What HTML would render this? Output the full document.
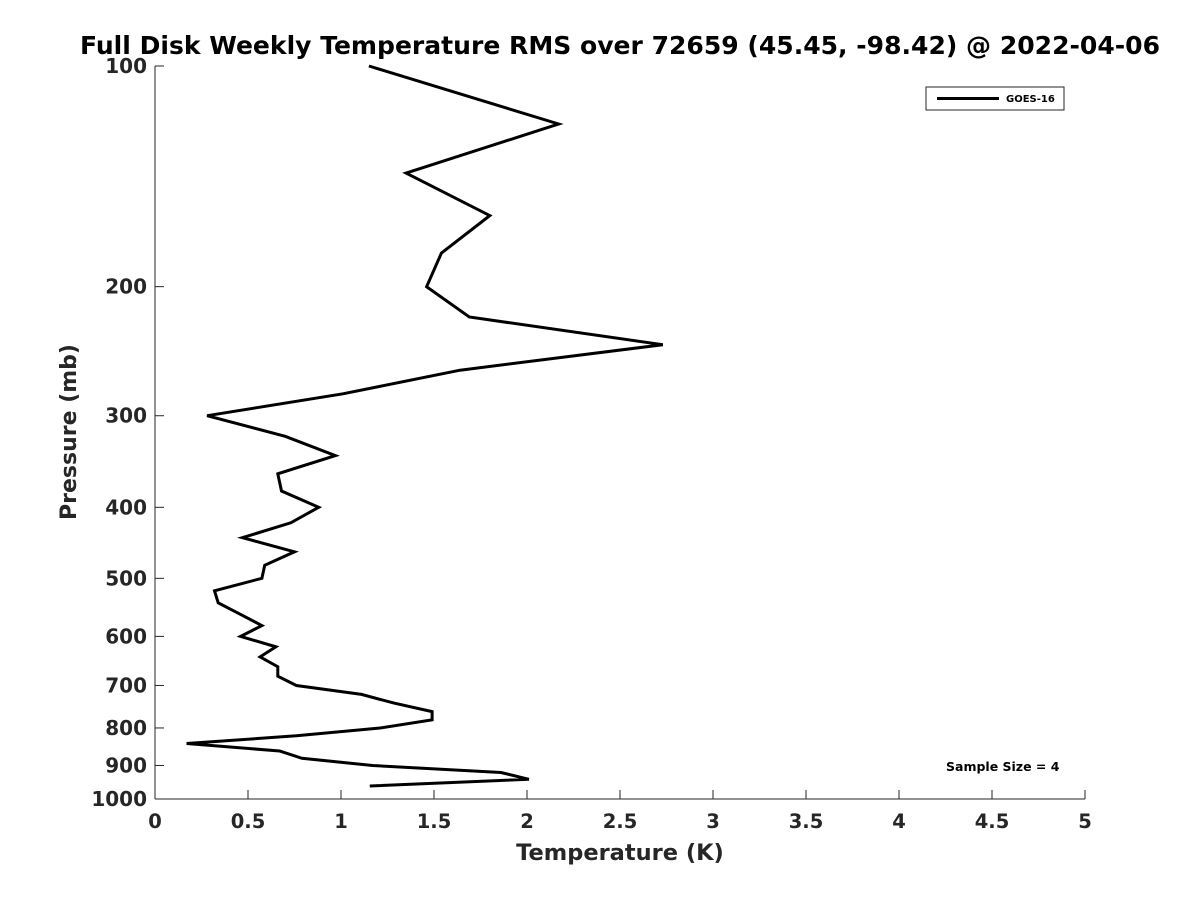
<!DOCTYPE html>
<html><head><meta charset="utf-8"><style>
body{margin:0;background:#fff;}
svg text{font-family:"DejaVu Sans","Liberation Sans",sans-serif;font-weight:bold;fill:#262626;}
</style></head><body>
<svg width="1200" height="900" xmlns="http://www.w3.org/2000/svg">
<rect width="1200" height="900" fill="#fff"/>
<text x="620" y="54" text-anchor="middle" font-size="24.5" textLength="1080" lengthAdjust="spacingAndGlyphs" style="fill:#000">Full Disk Weekly Temperature RMS over 72659 (45.45, -98.42) @ 2022-04-06</text>
<g id="axes"></g>
<text x="620" y="860" text-anchor="middle" font-size="22.5">Temperature (K)</text>
<text transform="translate(76,432) rotate(-90)" text-anchor="middle" font-size="22">Pressure (mb)</text>
<g>
<rect x="926" y="87" width="138" height="23" fill="#fff" stroke="#262626" stroke-width="1"/>
<line x1="937" y1="98.5" x2="999" y2="98.5" stroke="#000" stroke-width="3"/>
<text x="1006" y="102" font-size="10" style="fill:#000">GOES-16</text>
</g>
<text x="946" y="771" font-size="12.5" style="fill:#000">Sample Size = 4</text>
</svg>
<script>
const pressures=[100,120,140,160,180,200,220,240,260,280,300,320,340,360,380,400,420,440,460,480,500,520,540,560,580,600,620,640,660,680,700,720,740,760,780,800,820,840,860,880,900,920,940,960];
const temps=[1.15,2.17,1.35,1.80,1.54,1.46,1.69,2.73,1.64,1.01,0.28,0.70,0.97,0.66,0.68,0.88,0.73,0.47,0.75,0.59,0.575,0.32,0.34,0.46,0.575,0.46,0.65,0.565,0.66,0.66,0.76,1.11,1.285,1.49,1.49,1.21,0.76,0.17,0.67,0.79,1.17,1.86,2.01,1.155];
const xTicks=[0,0.5,1,1.5,2,2.5,3,3.5,4,4.5,5];
const xTickLabels=["0","0.5","1","1.5","2","2.5","3","3.5","4","4.5","5"];
const yTicks=[100,200,300,400,500,600,700,800,900,1000];
const L=155,R=1085,T=66,B=799;
const xs=v=>L+(v-0)/5*(R-L);
const ys=p=>T+Math.log10(p/100)*(B-T);
const NS="http://www.w3.org/2000/svg";
const svg=document.querySelector('svg');const g=document.getElementById('axes');
function mk(t,a,parent){const e=document.createElementNS(NS,t);for(const k in a)e.setAttribute(k,a[k]);(parent||g).appendChild(e);return e;}
let ax=mk('line',{x1:L,y1:B,x2:R,y2:B,stroke:'#262626','stroke-width':1});


let ay=mk('line',{x1:L,y1:T,x2:L,y2:B,stroke:'#262626','stroke-width':1});


xTicks.forEach((v,i)=>{const x=xs(v);
mk('line',{x1:x,y1:B,x2:x,y2:B-9,stroke:'#262626'});
const t=mk('text',{x:x,y:B+29,'text-anchor':'middle','font-size':19.5});t.textContent=xTickLabels[i];

});
yTicks.forEach(p=>{const y=ys(p);
mk('line',{x1:L,y1:y,x2:L+9,y2:y,stroke:'#262626'});
const t=mk('text',{x:L-8,y:y+7,'text-anchor':'end','font-size':20});t.textContent=p;

});
const d=pressures.map((p,i)=>(i?'L':'M')+xs(temps[i]).toFixed(1)+','+ys(p).toFixed(1)).join(' ');
const line=mk('path',{d:d,fill:'none',stroke:'#000','stroke-width':3,'stroke-linejoin':'miter'},svg);


</script>
</body></html>
